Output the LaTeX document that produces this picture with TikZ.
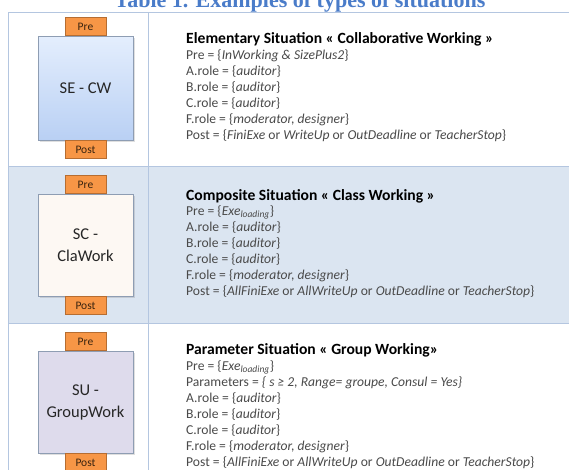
\documentclass[tikz,border=0pt]{standalone}
\usepackage{fontspec}
\setmainfont{Carlito}
\newfontfamily\titlefont{Liberation Serif}
\usetikzlibrary{shadows}
\definecolor{gridc}{HTML}{B4C6E0}
\definecolor{rowblue}{HTML}{DBE5F1}
\definecolor{bodyc}{HTML}{4A4A4A}
\definecolor{orangefill}{HTML}{F79646}
\definecolor{orangeline}{HTML}{B66D31}
\definecolor{orangetext}{HTML}{3A2410}
\definecolor{boxline}{HTML}{8E9DB3}
\definecolor{seTop}{HTML}{E4EEFD}
\definecolor{seBot}{HTML}{B9D0F4}
\definecolor{scFill}{HTML}{FDF8F3}
\definecolor{suFill}{HTML}{DEDBEC}
\definecolor{titleblue}{HTML}{4A7CC9}
\begin{document}
\begin{tikzpicture}[x=1pt,y=-1pt,
  grid/.style={draw=gridc, line width=0.8pt},
  mainbox/.style={draw=boxline, line width=0.6pt, minimum width=95pt, minimum height=104pt,
    inner sep=0pt, align=center, font=\fontsize{16.5}{22}\selectfont, text=black!85,
    drop shadow={opacity=0.25, shadow xshift=1.5pt, shadow yshift=-1.5pt}},
  tag/.style={draw=orangeline, fill=orangefill, line width=0.6pt, minimum width=41pt,
    minimum height=18pt, inner sep=0pt, font=\fontsize{11.5}{12}\selectfont, text=orangetext},
  txt/.style={anchor=base west, inner sep=0pt, font=\fontsize{13.6}{15}\selectfont, text=bodyc},
  ttl/.style={anchor=base west, inner sep=0pt, font=\bfseries\fontsize{15.6}{17}\selectfont, text=black}
]
\useasboundingbox (0,0) rectangle (569,469);
\clip (0,0) rectangle (569,469);
\fill[white] (0,0) rectangle (569,469);

% caption (clipped at the top, as in the source)
\node[anchor=base, inner sep=0pt, font=\titlefont\bfseries\fontsize{22}{24}\selectfont, text=titleblue]
  (caption) at (300,7) {Table 1. Examples of types of situations};

% table
\fill[rowblue] (8,166) rectangle (600,323);
\draw[grid] (8,500) -- (8,12) -- (600,12);
\draw[grid] (148,12) -- (148,500);
\draw[grid] (8,166) -- (600,166);
\draw[grid] (8,323) -- (600,323);

% row 1
\node[mainbox, top color=seTop, bottom color=seBot] (se) at (85.5,88) {SE - CW};
\node[tag, anchor=south] (sepre) at (se.north) {Pre};
\node[tag, anchor=north] (sepost) at (se.south) {Post};

\node[ttl] (r1t) at (186,43) {Elementary Situation « Collaborative Working »};
\node[txt] (r1a) at (186,59) {Pre = \{\textit{InWorking \& SizePlus2}\}};
\node[txt] (r1b) at (186,75) {A.role = \{\textit{auditor}\}};
\node[txt] (r1c) at (186,91) {B.role = \{\textit{auditor}\}};
\node[txt] (r1d) at (186,107) {C.role = \{\textit{auditor}\}};
\node[txt] (r1e) at (186,123) {F.role = \{\textit{moderator, designer}\}};
\node[txt] (r1f) at (186,139) {Post = \{\textit{FiniExe} or \textit{WriteUp} or \textit{OutDeadline} or \textit{TeacherStop}\}};

% row 2
\node[mainbox, fill=scFill, minimum height=102pt] (sc) at (85.5,245) {SC -\\ClaWork};
\node[tag, anchor=south] (scpre) at (sc.north) {Pre};
\node[tag, anchor=north] (scpost) at (sc.south) {Post};

\node[ttl] (r2t) at (186,200) {Composite Situation « Class Working »};
\node[txt] (r2a) at (186,215) {Pre = \{\textit{Exe}\textsubscript{\textit{loading}}\}};
\node[txt] (r2b) at (186,231) {A.role = \{\textit{auditor}\}};
\node[txt] (r2c) at (186,247) {B.role = \{\textit{auditor}\}};
\node[txt] (r2d) at (186,263) {C.role = \{\textit{auditor}\}};
\node[txt] (r2e) at (186,279) {F.role = \{\textit{moderator, designer}\}};
\node[txt] (r2f) at (186,295) {Post = \{\textit{AllFiniExe} or \textit{AllWriteUp} or \textit{OutDeadline} or \textit{TeacherStop}\}};

% row 3
\node[mainbox, fill=suFill, minimum height=102pt] (su) at (85.5,402) {SU -\\GroupWork};
\node[tag, anchor=south] (supre) at (su.north) {Pre};
\node[tag, anchor=north] (supost) at (su.south) {Post};

\node[ttl] (r3t) at (186,354) {Parameter Situation « Group Working»};
\node[txt] (r3a) at (186,370) {Pre = \{\textit{Exe}\textsubscript{\textit{loading}}\}};
\node[txt] (r3b) at (186,386) {Parameters = \textit{\{ s ≥ 2, Range= groupe, Consul = Yes\}}};
\node[txt] (r3c) at (186,402) {A.role = \{\textit{auditor}\}};
\node[txt] (r3d) at (186,418) {B.role = \{\textit{auditor}\}};
\node[txt] (r3e) at (186,434) {C.role = \{\textit{auditor}\}};
\node[txt] (r3f) at (186,450) {F.role = \{\textit{moderator, designer}\}};
\node[txt] (r3g) at (186,466) {Post = \{\textit{AllFiniExe} or \textit{AllWriteUp} or \textit{OutDeadline} or \textit{TeacherStop}\}};
\end{tikzpicture}
\end{document}
